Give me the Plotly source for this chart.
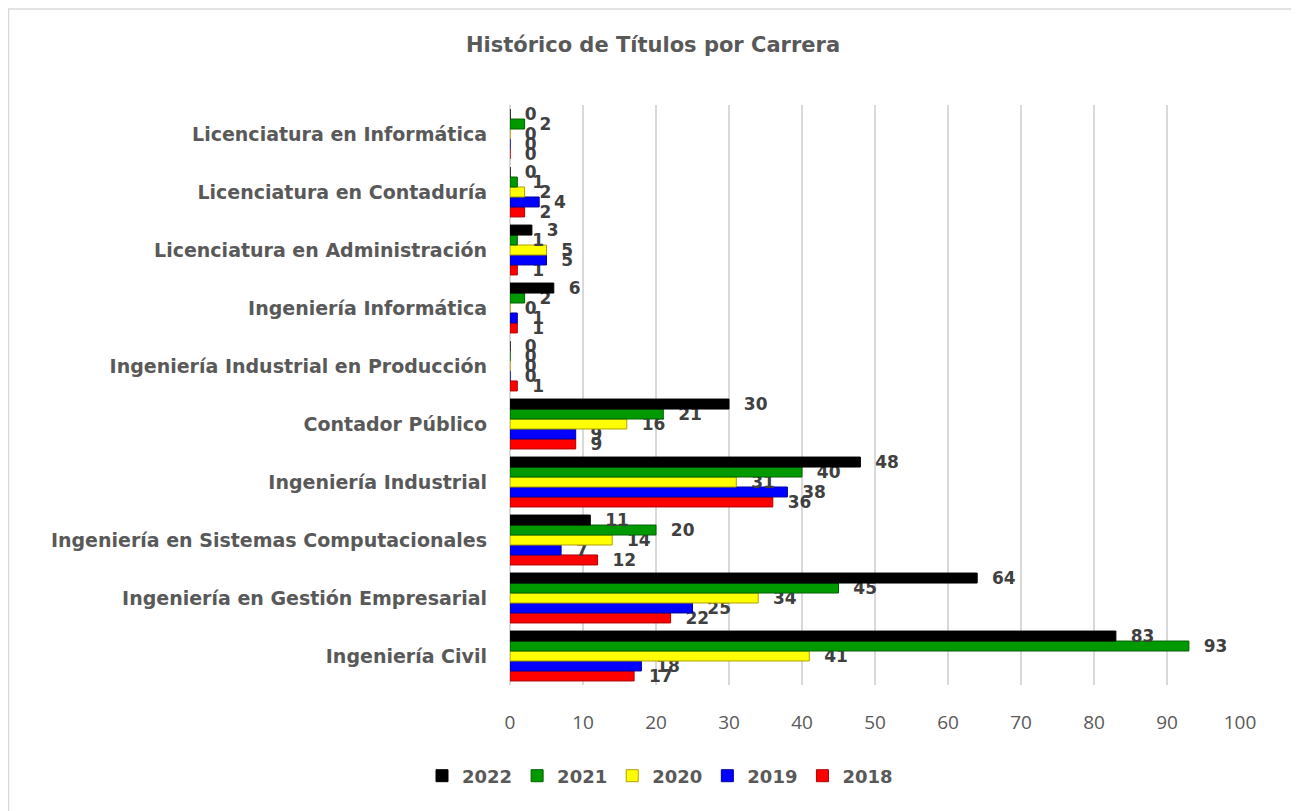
import plotly.graph_objects as go

# categories from bottom to top, as in the reference
carreras = [
    "Ingeniería Civil",
    "Ingeniería en Gestión Empresarial",
    "Ingeniería en Sistemas Computacionales",
    "Ingeniería Industrial",
    "Contador Público",
    "Ingeniería Industrial en Producción",
    "Ingeniería Informática",
    "Licenciatura en Administración",
    "Licenciatura en Contaduría",
    "Licenciatura en Informática",
]

t2022 = [83, 64, 11, 48, 30, 0, 6, 3, 0, 0]
t2021 = [93, 45, 20, 40, 21, 0, 2, 1, 1, 2]
t2020 = [41, 34, 14, 31, 16, 0, 0, 5, 2, 0]
t2019 = [18, 25, 7, 38, 9, 0, 1, 5, 4, 0]
t2018 = [17, 22, 12, 36, 9, 1, 1, 1, 2, 0]

# plotted bottom-up inside each group, so 2018 goes first
series = [
    ("2018", t2018, "#ff0000", "#b00000"),
    ("2019", t2019, "#0000ff", "#0000a0"),
    ("2020", t2020, "#ffff00", "#b0a000"),
    ("2021", t2021, "#009900", "#006000"),
    ("2022", t2022, "#000000", "#000000"),
]

gris = "#595959"
bold_font = "DejaVu Sans, Verdana, sans-serif"

# the page body adds an 8px margin, so the figure is 8px smaller
W, H = 1291, 803
ml, mr, mt, mb = 502, 59, 97, 126

fig = go.Figure()
for nombre, vals, color, borde in series:
    fig.add_trace(go.Bar(
        name=nombre,
        y=carreras,
        x=vals,
        orientation="h",
        marker=dict(color=color, line=dict(color=borde, width=1)),
        text=vals,
        texttemplate="\u00a0\u00a0%{x}",
        textposition="outside",
        constraintext="none",
        cliponaxis=False,
        textfont=dict(family=bold_font, size=17, color="#404040", weight="bold"),
    ))

# light border around the chart
pw = W - ml - mr
ph = H - mt - mb
fig.add_shape(
    type="rect", xref="paper", yref="paper",
    x0=(0.5 - ml) / pw, x1=(1289 - ml) / pw,
    y0=-(H + 5 - mt - ph) / ph, y1=1 + (mt - 1) / ph,
    line=dict(color="#d9d9d9", width=1.5), fillcolor="rgba(0,0,0,0)", layer="below",
)

fig.update_layout(
    width=W, height=H,
    margin=dict(l=ml, r=mr, t=mt, b=mb),
    paper_bgcolor="white", plot_bgcolor="white",
    barmode="group", bargap=0.14, bargroupgap=0,
    title=dict(
        text="<b>Histórico de Títulos por Carrera</b>",
        x=645 / W, xanchor="center", xref="container",
        y=1 - 37 / H, yanchor="middle", yref="container",
        font=dict(family=bold_font, size=21, color=gris),
    ),
    font=dict(family="Open Sans, sans-serif", color=gris),
    legend=dict(
        orientation="h", traceorder="reversed",
        x=652 / W, xanchor="center", xref="container",
        y=1 - 768 / H, yanchor="middle", yref="container",
        font=dict(family=bold_font, size=18, color=gris, weight="bold"),
        itemwidth=30,
    ),
    showlegend=True,
)

fig.update_xaxes(
    range=[0, 100], dtick=10,
    showgrid=True, gridcolor="#d9d9d9", gridwidth=2,
    zeroline=True, zerolinecolor="#d9d9d9", zerolinewidth=2,
    showline=False, ticks="",
    ticklabelstandoff=24,
    tickfont=dict(family="Open Sans, sans-serif", size=19, color=gris),
)
fig.update_yaxes(
    showgrid=False, showline=False, ticks="",
    ticklabelstandoff=22,
    tickfont=dict(family=bold_font, size=19, color=gris, weight="bold"),
)

fig.write_html("out.html")
